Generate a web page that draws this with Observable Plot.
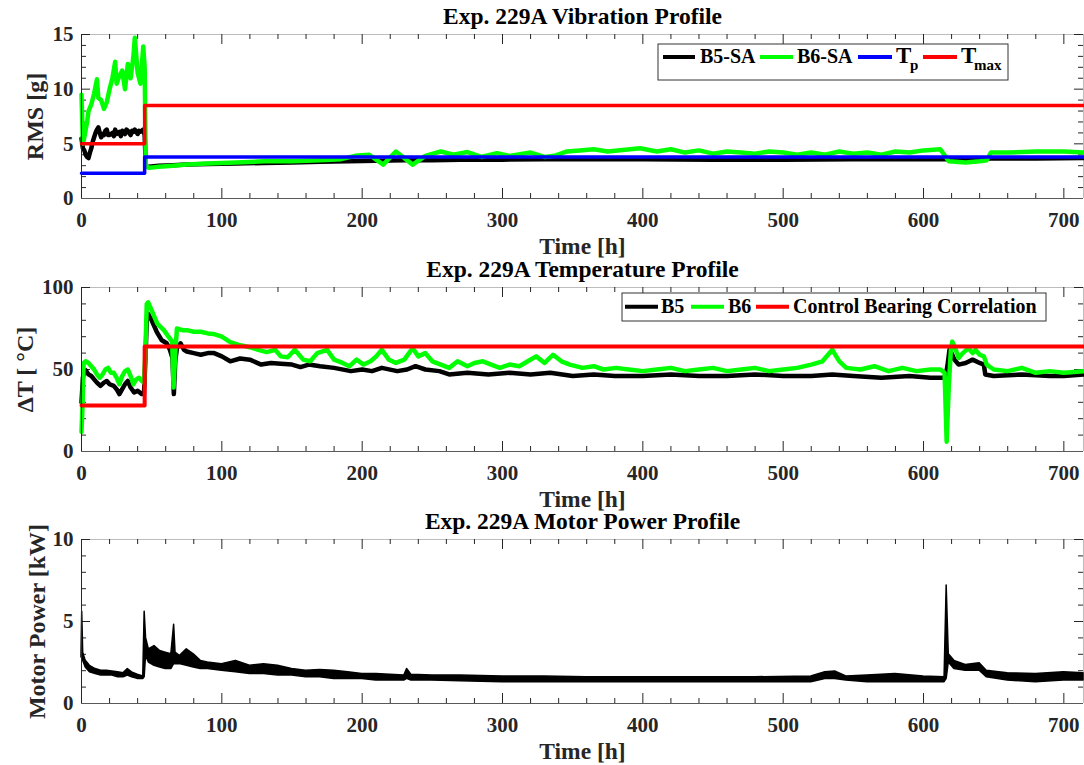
<!DOCTYPE html>
<html><head><meta charset="utf-8">
<script src="https://cdn.jsdelivr.net/npm/d3@7"></script>
<script src="https://cdn.jsdelivr.net/npm/@observablehq/plot@0.6"></script>
<style>
body{margin:0;background:#fff;}
#chart{position:relative;width:1084px;height:765px;overflow:hidden;background:#fff;}
#chart svg{position:absolute;left:0;overflow:visible;background:transparent;}
</style></head><body><div id="chart"></div>
<script>
// ---------- data (time [h], value) ----------
const xTicks = [0,100,200,300,400,500,600,700];
const rmsTicks = [0,5,10,15];
const tempTicks = [0,50,100];
const powerTicks = [0,5,10];

const rmsB5 = [[0,5.5],[1,4.6],[2,4.4],[3,4.0],[4,3.8],[5,3.7],[6,4.2],[7,4.6],[8,5.2],[9,5.6],[10,6.0],[11,6.3],[12,6.5],[13,6.0],[14,5.6],[15,5.9],[16,5.8],[17,6.2],[18,6.3],[19,5.8],[20,5.8],[22,6.0],[23,5.7],[24,6.3],[25,5.9],[27,6.1],[28,5.7],[29,6.2],[31,5.9],[32,6.3],[33,6.2],[35,5.8],[36,6.2],[37,6.1],[38,6.3],[40,5.9],[41,6.2],[42,6.1],[44,6.3],[45,5.8],[45.8,3.0],[48,2.9],[55,3.0],[65,3.05],[75,3.1],[90,3.15],[110,3.2],[130,3.25],[150,3.3],[170,3.35],[190,3.4],[210,3.45],[230,3.5],[250,3.5],[270,3.55],[300,3.55],[330,3.6],[360,3.6],[400,3.6],[450,3.55],[500,3.55],[550,3.6],[600,3.6],[615,3.6],[620,3.5],[640,3.5],[645,3.65],[680,3.65],[714,3.7]];
const rmsB6 = [[0,9.5],[1,5.0],[2,5.6],[4,7.0],[5,8.0],[7,8.6],[9,9.6],[11,10.9],[12,9.2],[14,9.0],[16,8.2],[18,8.8],[20,10.0],[22,11.0],[24,12.5],[25,10.5],[27,11.2],[29,11.7],[31,10.0],[33,12.3],[35,11.0],[37,13.0],[38,14.7],[40,11.5],[42,10.5],[44,13.9],[45,12.0],[45.8,3.0],[48,2.8],[55,2.9],[65,3.0],[75,3.1],[90,3.2],[110,3.3],[130,3.4],[150,3.4],[170,3.5],[185,3.6],[195,3.9],[205,4.0],[215,3.1],[224,4.3],[236,3.1],[245,3.9],[256,4.3],[265,4.0],[275,4.25],[285,3.8],[296,4.15],[305,3.9],[320,4.2],[330,3.8],[337,3.9],[346,4.3],[355,4.4],[365,4.5],[375,4.3],[391,4.5],[398,4.6],[410,4.3],[420,4.5],[430,4.2],[440,4.4],[450,4.1],[460,4.3],[470,4.2],[480,4.1],[490,4.3],[500,4.2],[510,4.0],[520,4.2],[530,4.0],[540,4.3],[550,4.1],[560,4.2],[570,4.0],[580,4.3],[590,4.2],[600,4.4],[612,4.5],[618,3.4],[630,3.3],[640,3.4],[645,3.5],[648,4.2],[660,4.2],[680,4.3],[700,4.3],[714,4.2]];
const stepTime = [0,45,45,714];
const tpValues = [2.3,2.3,3.8,3.8];
const tmaxValues = [5,5,8.5,8.5];
const ctrlValues = [28,28,64,64];

const tempB5 = [[0,30],[1,45],[2,49],[3,49.5],[5,47],[7,46],[9,44],[11,42],[13.5,40],[16,42],[18,43],[20,41],[23,40],[25,38],[27,35],[29,38],[31,41],[33,43],[35,39],[37.5,36],[40,37],[43,35],[44.5,35],[45.5,55],[46.5,80],[47.5,84],[50,80],[53.6,73],[57,68],[60.7,66],[63,62],[64.8,57],[65.8,35],[66.8,55],[68,63],[70.6,66],[73,62],[75,61],[80,60],[85,59],[90,60],[94.5,60],[100,58],[106,55],[113,56.7],[120,56],[128,53],[135,54],[142,53.5],[150,53],[156,51.5],[162,53],[170,52],[180,51],[192,49],[200,50],[207,49],[214,51],[225,49],[232,50],[238,52],[245,50],[255,49],[262,47],[275,48],[290,47],[305,48],[320,47],[334,48],[350,46],[365,47],[380,46],[400,46],[420,47],[440,46],[460,46],[480,47],[500,46],[520,46],[535,47],[550,46],[570,45],[590,46],[605,45],[615.5,45],[617,52],[618.5,62],[620,60],[622,56],[625,53],[630,54],[635,56],[640,54],[643,53],[644,47],[650,46],[670,47],[690,46],[700,46],[714,47]];
const tempB6 = [[0,12],[0.8,30],[1.5,54],[3,55],[5,54],[7,52],[9,50],[11,47],[13,45],[15,47],[17,50],[19,51],[21,48],[23,48],[25,45],[27,41],[29,46],[31,49],[33,50],[35,46],[37,41],[39,44],[41,45],[43,43],[44.5,42],[45.5,60],[46.5,90],[47.5,91],[50,86],[54,78],[58.7,74],[62,70],[64.6,67],[65.6,39],[66.8,60],[68,75],[72,74],[75,74],[80,73],[85,73],[90,72],[94,71.7],[100,70],[106,66.7],[112,65],[120,63.6],[126,62],[132,60.6],[138,62],[142,58],[147,57.5],[152,62],[158,56],[163,55],[168,60],[175,62],[180,56],[186,54],[191,52],[196,56],[201,53],[206,55],[210,58],[214,62],[219,56],[224,54],[230,56],[236,63],[240,58],[245,60],[250,55],[256,53],[262,51],[268,55],[275,52],[280,54],[286,55],[292,53],[298,51],[305,53],[312,52],[318,55],[324,58],[330,54],[336,59],[342,55],[348,53],[357,51],[365,52],[372,50],[381,51],[390,50],[400,49],[410,50],[420,51],[430,49],[440,50],[450,51],[460,49],[470,50],[480,51],[490,49],[500,50],[510,51],[520,53],[528,55],[535,62],[540,55],[545,51],[555,50],[565,52],[575,49],[585,51],[595,49],[605,50],[612,50],[615,48],[616.5,6],[618,40],[619.5,62],[620.5,67],[623,62],[625,57],[628,60],[632,63],[635,60],[637,62],[640,59],[643,58],[645,53],[650,50],[660,49],[670,51],[680,48],[690,49],[700,48],[714,49]];

// motor power: [time, lower envelope, upper envelope]
const power = [[0,2.8,3.0],[0.5,3.0,5.6],[1.2,2.6,3.1],[3,2.2,2.6],[6,1.9,2.3],[10,1.8,2.1],[14,1.7,2.0],[18,1.7,2.0],[22,1.7,1.95],[26,1.6,1.9],[30,1.6,1.85],[33,1.7,2.1],[36,1.6,1.9],[40,1.5,1.75],[44,1.5,1.65],[45,1.6,5.6],[46,2.9,4.0],[48,2.5,3.3],[52,2.3,3.5],[56,2.2,3.2],[60,2.1,3.1],[64,2.1,3.0],[66,2.4,4.8],[67,2.4,3.1],[70,2.4,2.9],[75,2.3,3.3],[80,2.2,3.0],[85,2.1,2.6],[90,2.1,2.5],[100,2.0,2.4],[110,1.9,2.6],[120,1.8,2.3],[130,1.8,2.4],[140,1.7,2.3],[150,1.7,2.1],[160,1.6,2.0],[170,1.6,2.05],[180,1.5,2.0],[190,1.5,1.9],[200,1.5,1.8],[210,1.4,1.8],[220,1.4,1.75],[230,1.4,1.7],[232,1.5,2.1],[235,1.4,1.75],[250,1.4,1.7],[270,1.35,1.7],[300,1.3,1.65],[330,1.3,1.65],[360,1.3,1.6],[400,1.3,1.6],[440,1.3,1.6],[480,1.3,1.6],[520,1.3,1.65],[530,1.5,1.9],[537,1.5,1.95],[545,1.4,1.65],[560,1.3,1.7],[580,1.3,1.8],[600,1.3,1.65],[615,1.3,1.6],[616.5,1.5,7.2],[618,2.5,3.0],[622,2.1,2.6],[630,2.0,2.35],[640,2.0,2.45],[645,1.6,2.0],[660,1.4,1.85],[680,1.3,1.8],[700,1.4,1.9],[714,1.4,1.85]];

// ---------- layout ----------
const FONT = "'Liberation Serif','Times New Roman',Times,serif";
const X_DOMAIN = [0,714];
const xMinor = d3.range(20,720,20).filter(d => d % 100 !== 0);
const W = 1084, H = 268, MT = 34, MB = 70, ML = 81, MR = 1;
const FH = H - MT - MB, FW = W - ML - MR;
const step = vals => stepTime.map((t,i) => [t, vals[i]]);
const chart = document.getElementById("chart");

function panel(cfg) {
  const [y0, y1] = cfg.yDomain;
  const tk = {stroke: "#262626", strokeWidth: 1};
  const svg = Plot.plot({
    width: W, height: H, marginTop: MT, marginBottom: MB, marginLeft: ML, marginRight: MR,
    x: {domain: X_DOMAIN},
    y: {domain: cfg.yDomain},
    style: {fontFamily: FONT, fontWeight: "bold", color: "#262626", background: "transparent", overflow: "visible"},
    marks: [
      Plot.ruleY([y1], {stroke: "#bdbdbd"}),
      Plot.ruleX([X_DOMAIN[1]], {stroke: "#bdbdbd"}),
      Plot.tickX(xTicks, {x: d => d, insetTop: FH - 10, ...tk}),
      Plot.tickX(xMinor, {x: d => d, insetTop: FH - 5, ...tk}),
      Plot.tickX(xTicks, {x: d => d, insetBottom: FH - 10, ...tk}),
      Plot.tickX(xMinor, {x: d => d, insetBottom: FH - 5, ...tk}),
      Plot.tickY(cfg.yTicks, {y: d => d, insetRight: FW - 9, ...tk}),
      Plot.tickY(cfg.yMinor, {y: d => d, insetRight: FW - 5, ...tk}),
      Plot.tickY(cfg.yTicks, {y: d => d, insetLeft: FW - 9, ...tk}),
      Plot.tickY(cfg.yMinor, {y: d => d, insetLeft: FW - 5, ...tk}),
      ...cfg.marks,
      Plot.ruleY([y0], {stroke: "#595959"}),
      Plot.ruleX([0], {stroke: "#262626"}),
      Plot.axisX({ticks: xTicks, anchor: "bottom", tickSize: 0, tickPadding: 14, fontSize: 21, label: null}),
      Plot.axisY({ticks: cfg.yTicks, anchor: "left", tickSize: 0, tickPadding: 8, fontSize: 21, label: null}),
      Plot.text([cfg.title], {text: d => d, frameAnchor: "top", dy: -18.2, lineAnchor: "middle", textAnchor: "middle", fontSize: 23.5, fill: "black"}),
      Plot.text(["Time [h]"], {text: d => d, frameAnchor: "bottom", dy: 48, lineAnchor: "middle", textAnchor: "middle", fontSize: 23.5, fill: "#262626"}),
      Plot.text([cfg.ylabel], {text: d => d, frameAnchor: "left", dx: cfg.ylabelDx, rotate: -90, lineAnchor: "middle", textAnchor: "middle", fontSize: 24, fill: "#262626"})
    ]
  });
  svg.style.top = cfg.top + "px";
  chart.appendChild(svg);
  return svg;
}

function legend(svg, top, box, items) {
  const g = d3.select(svg).append("g").attr("font-family", FONT).attr("font-weight", "bold").attr("text-anchor", "start");
  g.append("rect").attr("x", box[0]).attr("y", box[1] - top).attr("width", box[2]).attr("height", box[3])
    .attr("fill", "white").attr("stroke", "#333").attr("stroke-width", 1);
  for (const it of items) {
    g.append("line").attr("x1", it.l[0]).attr("x2", it.l[1]).attr("y1", it.ly - top).attr("y2", it.ly - top)
      .attr("stroke", it.color).attr("stroke-width", 4);
    for (const t of it.texts) {
      g.append("text").attr("x", t[0]).attr("y", t[1] - top).attr("font-size", t[3]).attr("fill", "black")
        .attr("text-anchor", "start").text(t[2]);
    }
  }
}

const fig1 = panel({
  top: 0, yDomain: [0,15], yTicks: rmsTicks, yMinor: d3.range(1,15).filter(d => d % 5),
  title: "Exp. 229A Vibration Profile", ylabel: "RMS [g]", ylabelDx: -46,
  marks: [
    Plot.line(rmsB5, {x: d => d[0], y: d => d[1], stroke: "black", strokeWidth: 4.5}),
    Plot.line(rmsB6, {x: d => d[0], y: d => d[1], stroke: "#00ff00", strokeWidth: 4.5}),
    Plot.line(step(tpValues), {x: d => d[0], y: d => d[1], stroke: "#0000ff", strokeWidth: 3.5}),
    Plot.line(step(tmaxValues), {x: d => d[0], y: d => d[1], stroke: "#ff0000", strokeWidth: 3.5})
  ]
});
legend(fig1, 0, [658,44,350,36], [
  {l: [663,695], ly: 57, color: "black", texts: [[700,63.3,"B5-SA",20]]},
  {l: [760,793], ly: 57, color: "#00ff00", texts: [[797,63.3,"B6-SA",20]]},
  {l: [858,892], ly: 57, color: "#0000ff", texts: [[896,63.3,"T",23],[910,69.5,"p",15]]},
  {l: [923,957], ly: 57, color: "#ff0000", texts: [[961,63.3,"T",23],[974,69.5,"max",15]]}
]);

const fig2 = panel({
  top: 253, yDomain: [0,100], yTicks: tempTicks, yMinor: d3.range(10,100,10).filter(d => d % 50),
  title: "Exp. 229A Temperature Profile", ylabel: "ΔT [ °C]", ylabelDx: -56,
  marks: [
    Plot.line(tempB5, {x: d => d[0], y: d => d[1], stroke: "black", strokeWidth: 4.5}),
    Plot.line(tempB6, {x: d => d[0], y: d => d[1], stroke: "#00ff00", strokeWidth: 4.5}),
    Plot.line(step(ctrlValues), {x: d => d[0], y: d => d[1], stroke: "#ff0000", strokeWidth: 4})
  ]
});
legend(fig2, 253, [622,293,424,28], [
  {l: [625,658], ly: 306.7, color: "black", texts: [[661,313.3,"B5",20]]},
  {l: [691,724], ly: 306.7, color: "#00ff00", texts: [[728,313.3,"B6",20]]},
  {l: [756,789], ly: 306.7, color: "#ff0000", texts: [[793,313.3,"Control Bearing Correlation",20]]}
]);

panel({
  top: 505, yDomain: [0,10], yTicks: powerTicks, yMinor: d3.range(1,10).filter(d => d % 5),
  title: "Exp. 229A Motor Power Profile", ylabel: "Motor Power [kW]", ylabelDx: -44,
  marks: [
    Plot.areaY(power, {x: d => d[0], y1: d => d[1], y2: d => d[2], fill: "black", stroke: "black", strokeWidth: 1.5})
  ]
});
</script></body></html>
